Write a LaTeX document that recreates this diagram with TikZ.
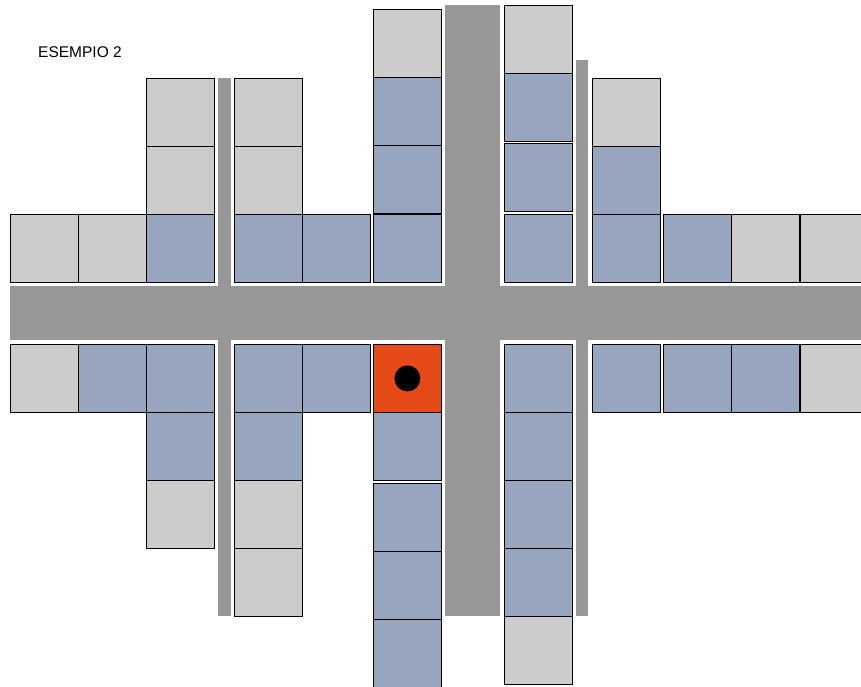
\documentclass[tikz,border=0pt]{standalone}
\usepackage{fontspec}
\setmainfont{Liberation Sans}
\usepackage{tikz}
\usetikzlibrary{positioning}

\definecolor{freegray}{HTML}{CCCCCC}
\definecolor{takenblue}{HTML}{97A5BF}
\definecolor{roadgray}{HTML}{979797}
\definecolor{targetorange}{HTML}{E64A19}

\begin{document}
\begin{tikzpicture}[
    x=1pt, y=-1pt,
    every node/.style={font=\fontsize{15.5}{18}\selectfont},
    cell/.style={rectangle, draw=black, line width=0.8pt, minimum width=68pt,
                 minimum height=68pt, inner sep=0pt, anchor=north west},
    road/.style={fill=roadgray},
    car/.style={circle, fill=black, minimum size=26pt, inner sep=0pt},
]
\useasboundingbox (0,0) rectangle (861,686);

% roads
\fill[road] (10,286) rectangle (861,340);
\fill[road] (445,5) rectangle (500,616);
\fill[road] (218,78) rectangle (231,616);
\fill[road] (576,60) rectangle (588,616);

% row above the main road
\foreach \x/\c [count=\i] in {10/freegray, 78/freegray, 146/takenblue, 234/takenblue,
    302/takenblue, 373/takenblue, 504/takenblue, 592/takenblue, 663/takenblue,
    731/freegray, 800/freegray}
  \node[cell, fill=\c] (up\i) at (\x,214) {};

% row below the main road
\foreach \x/\c [count=\i] in {10/freegray, 78/takenblue, 146/takenblue, 234/takenblue,
    302/takenblue, 373/targetorange, 504/takenblue, 592/takenblue, 663/takenblue,
    731/takenblue, 800/freegray}
  \node[cell, fill=\c] (dn\i) at (\x,344) {};

% columns
\foreach \y/\c [count=\i] in {78/freegray, 146/freegray, 412/takenblue, 480/freegray}
  \node[cell, fill=\c] (colc\i) at (146,\y) {};
\foreach \y/\c [count=\i] in {78/freegray, 146/freegray, 412/takenblue, 480/freegray,
    548/freegray}
  \node[cell, fill=\c] (cold\i) at (234,\y) {};
\foreach \y/\c [count=\i] in {9/freegray, 77/takenblue, 145/takenblue, 412/takenblue,
    483/takenblue, 551/takenblue, 619/takenblue}
  \node[cell, fill=\c] (colf\i) at (373,\y) {};
\foreach \y/\c [count=\i] in {5/freegray, 73/takenblue, 143/takenblue, 412/takenblue,
    480/takenblue, 548/takenblue, 616/freegray}
  \node[cell, fill=\c] (colg\i) at (504,\y) {};
\foreach \y/\c [count=\i] in {78/freegray, 146/takenblue}
  \node[cell, fill=\c] (colh\i) at (592,\y) {};

\node[car] (dot) at (dn6.center) {};

\node[anchor=west, inner sep=0pt] (title) at (38,52) {ESEMPIO 2};

\end{tikzpicture}
\end{document}
